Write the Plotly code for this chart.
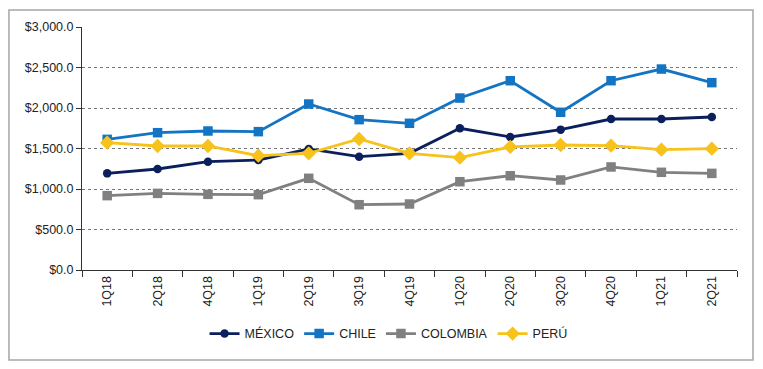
import plotly.graph_objects as go

categories = ["1Q18", "2Q18", "4Q18", "1Q19", "2Q19", "3Q19", "4Q19",
              "1Q20", "2Q20", "3Q20", "4Q20", "1Q21", "2Q21"]
mexico = [1193, 1247, 1337, 1358, 1494, 1399, 1440, 1749, 1642, 1733, 1864, 1864, 1889]
chile = [1613, 1695, 1716, 1708, 2049, 1856, 1811, 2123, 2337, 1947, 2337, 2481, 2313]
colombia = [918, 946, 934, 930, 1132, 806, 815, 1090, 1164, 1111, 1272, 1206, 1193]
peru = [1572, 1531, 1531, 1411, 1440, 1617, 1440, 1387, 1519, 1543, 1535, 1486, 1498]
y_ticks = [0, 500, 1000, 1500, 2000, 2500, 3000]
y_labels = ["$0.0", "$500.0", "$1,000.0", "$1,500.0", "$2,000.0", "$2,500.0", "$3,000.0"]

series = [
    ("MÉXICO", mexico, "#0b1f5c", "circle", 8.5),
    ("CHILE", chile, "#1474c4", "square", 9.5),
    ("COLOMBIA", colombia, "#808080", "square", 9.5),
    ("PERÚ", peru, "#f7c21a", "diamond", 11),
]

FONT = "Liberation Sans, Arial, sans-serif"

fig = go.Figure()
for name, vals, color, sym, size in series:
    fig.add_trace(go.Scatter(
        x=categories, y=vals, name=name, mode="lines+markers",
        line=dict(color=color, width=2.8),
        marker=dict(symbol=sym, size=size, color=color),
    ))

fig.update_layout(
    width=755, height=361,
    margin=dict(l=74, r=26, t=19, b=99),
    paper_bgcolor="white", plot_bgcolor="white",
    font=dict(family=FONT, size=12.5, color="#222222"),
    showlegend=True,
    legend=dict(orientation="h", x=0.468, y=-0.263, xanchor="center", yanchor="middle",
                font=dict(size=12.5, color="#222222"), itemwidth=30, tracegroupgap=0),
    xaxis=dict(type="category", tickangle=-90, ticks="outside", ticklen=6,
               tickson="boundaries", tickcolor="#333333",
               showline=True, linecolor="#333333", linewidth=1,
               showgrid=False, zeroline=False, range=[-0.5, 12.5]),
    yaxis=dict(range=[0, 3000], tickvals=y_ticks, ticktext=y_labels,
               ticks="outside", ticklen=5, tickcolor="#333333",
               showline=True, linecolor="#333333", linewidth=1,
               showgrid=True, gridcolor="#777777", griddash="dot", gridwidth=1,
               zeroline=False),
    shapes=[dict(type="rect", xref="paper", yref="paper",
                 x0=-0.1115, x1=1.0244, y0=-0.370, y1=1.07,
                 line=dict(color="#a6a6a6", width=1.5), fillcolor="rgba(0,0,0,0)",
                 layer="below")],
)

fig.write_html("out.html")
